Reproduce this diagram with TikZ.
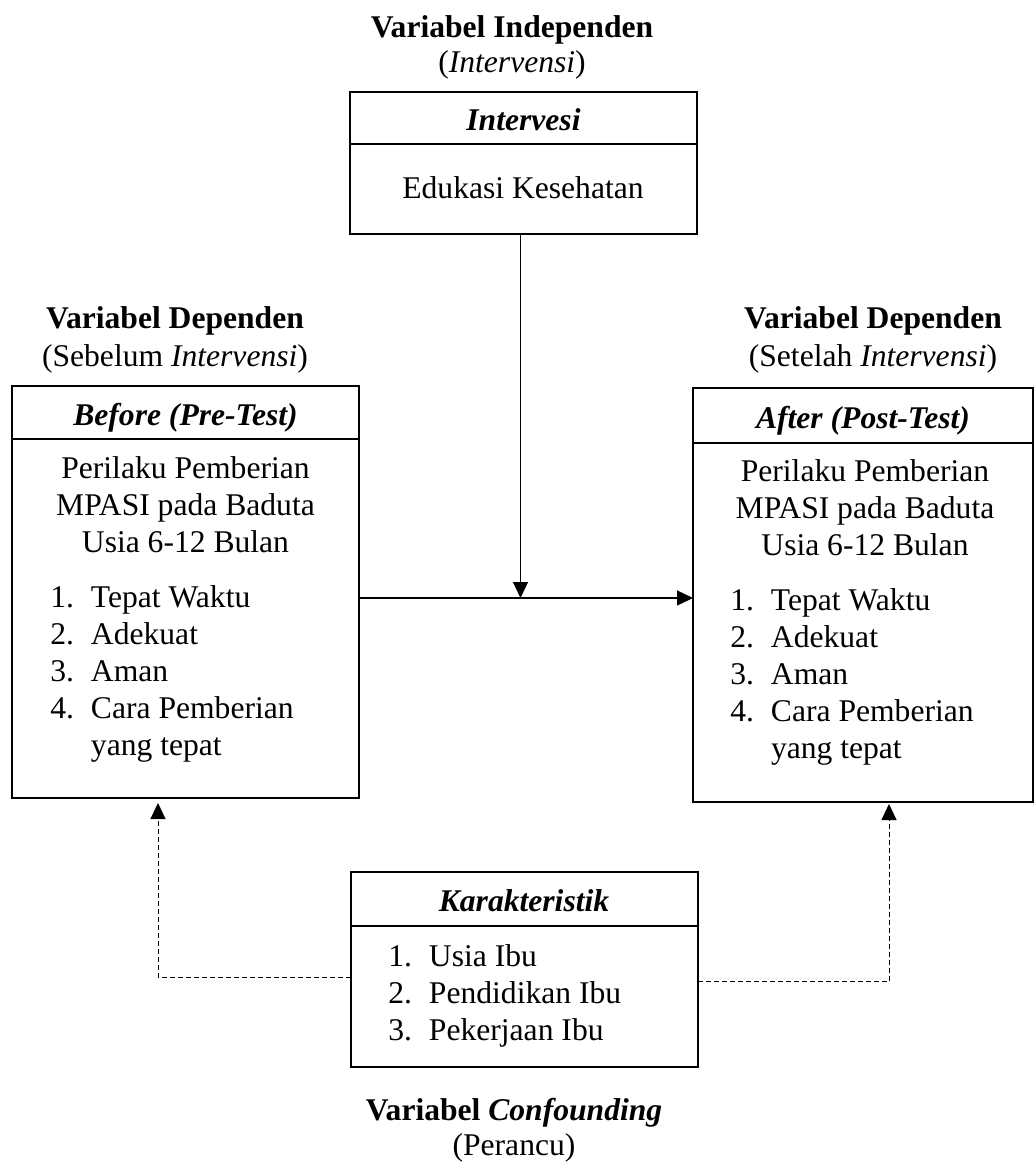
\documentclass[tikz,border=0pt]{standalone}
\usepackage{fontspec}
\setmainfont{Liberation Serif}
\usetikzlibrary{arrows.meta}
\newcommand{\txt}{\fontsize{15.8}{18.5}\selectfont}
\newcommand{\itm}[2]{\makebox[20.3pt][l]{#1}#2}

\begin{document}
\begin{tikzpicture}[x=0.5pt,y=-0.5pt,
  head/.style={draw, line width=1pt, inner sep=0pt, outer sep=0pt, minimum width=173.5pt,
    text height=12.5pt, text depth=0pt, font=\txt\bfseries\itshape},
  box/.style={draw, line width=1pt, inner sep=0pt, outer sep=0pt, minimum width=173.5pt, anchor=north},
  lbl/.style={inner sep=0pt, font=\txt},
  conn/.style={line width=0.65pt, -{Triangle[length=8pt,width=7.5pt]}},
  conf/.style={conn, line width=0.5pt, dash pattern=on 2.5pt off 1.5pt}]
\useasboundingbox (0,0) rectangle (1035,1162);

% titles
\node[lbl, anchor=base] (indepLbl) at (512,37) {\begin{tabular}[t]{@{}c@{}}\textbf{Variabel Independen}\\[-1pt](\textit{Intervensi})\end{tabular}};
\node[lbl, anchor=base] (preLbl) at (175,328) {\begin{tabular}[t]{@{}c@{}}\textbf{Variabel Dependen}\\[0.5pt](Sebelum \textit{Intervensi})\end{tabular}};
\node[lbl, anchor=base] (postLbl) at (873,328) {\begin{tabular}[t]{@{}c@{}}\textbf{Variabel Dependen}\\[0.5pt](Setelah \textit{Intervensi})\end{tabular}};
\node[lbl, anchor=base] (confLbl) at (514,1120) {\begin{tabular}[t]{@{}c@{}}\textbf{Variabel \textit{Confounding}}\\[-1pt](Perancu)\end{tabular}};

% intervensi
\node[head, minimum height=26pt] (intHead) at (523.5,118) {Intervesi};
\node[box, minimum height=45pt] (intBody) at (intHead.south) {};
\node[lbl, anchor=base] (intTxt) at (523,198) {Edukasi Kesehatan};

% pre-test
\node[head, minimum height=26.5pt] (preHead) at (185.5,412.5) {Before (Pre-Test)};
\node[box, minimum height=179.5pt] (preBody) at (preHead.south) {};
\node[lbl, anchor=base] (preDesc) at (185.5,478) {\begin{tabular}[t]{@{}c@{}}Perilaku Pemberian\\MPASI pada Baduta\\Usia 6-12 Bulan\end{tabular}};
\node[lbl, anchor=base west] (preList) at (50,607) {\begin{tabular}[t]{@{}l@{}}\itm{1.}{Tepat Waktu}\\\itm{2.}{Adekuat}\\\itm{3.}{Aman}\\\itm{4.}{Cara Pemberian}\\\itm{}{yang tepat}\end{tabular}};

% post-test
\node[head, minimum width=170pt, minimum height=27.5pt] (postHead) at (863,415.5) {After (Post-Test)};
\node[box, minimum width=170pt, minimum height=179.5pt] (postBody) at (postHead.south) {};
\node[lbl, anchor=base] (postDesc) at (865,481) {\begin{tabular}[t]{@{}c@{}}Perilaku Pemberian\\MPASI pada Baduta\\Usia 6-12 Bulan\end{tabular}};
\node[lbl, anchor=base west] (postList) at (730,610) {\begin{tabular}[t]{@{}l@{}}\itm{1.}{Tepat Waktu}\\\itm{2.}{Adekuat}\\\itm{3.}{Aman}\\\itm{4.}{Cara Pemberian}\\\itm{}{yang tepat}\end{tabular}};

% confounding
\node[head, minimum height=27pt] (karHead) at (524,899) {Karakteristik};
\node[box, minimum height=70.5pt] (karBody) at (karHead.south) {};
\node[lbl, anchor=base west] (karList) at (388,966) {\begin{tabular}[t]{@{}l@{}}\itm{1.}{Usia Ibu}\\\itm{2.}{Pendidikan Ibu}\\\itm{3.}{Pekerjaan Ibu}\end{tabular}};

% arrows
\coordinate (mid) at (520.5,598);
\draw[conn] (intBody.south -| mid) -- (mid);
\draw[conn] (preBody.east |- mid) -- (postBody.west |- mid);
\draw[conf] ([yshift=9.75pt]karBody.west) -| ([xshift=-13.75pt,yshift=-2.5pt]preBody.south);
\draw[conf] ([yshift=7.75pt]karBody.east) -| ([xshift=13pt,yshift=-1pt]postBody.south);
\end{tikzpicture}
\end{document}
